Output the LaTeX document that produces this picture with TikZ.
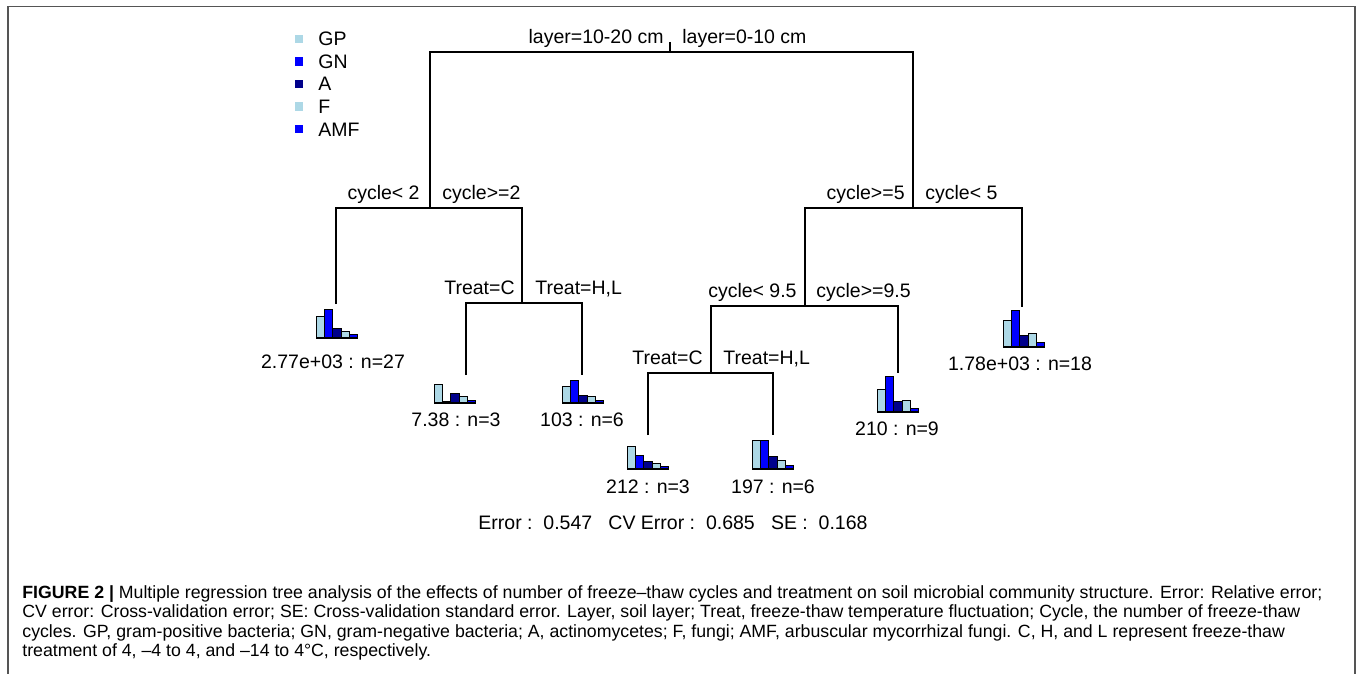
\documentclass[tikz,border=0pt]{standalone}
\usepackage{fontspec}
\setmainfont{Liberation Sans}
\definecolor{gpcol}{HTML}{ADD8E6}
\definecolor{gncol}{HTML}{0000FF}
\definecolor{accol}{HTML}{00008B}
\definecolor{framegray}{HTML}{555555}
\newcommand\leafbars[7]{%
  \filldraw[barbox,fill=gpcol] (#1,#2) rectangle ++(8.3,-#3);
  \filldraw[barbox,fill=gncol] ({#1+8.3},#2) rectangle ++(8.3,-#4);
  \filldraw[barbox,fill=accol] ({#1+16.6},#2) rectangle ++(8.3,-#5);
  \filldraw[barbox,fill=gpcol] ({#1+24.9},#2) rectangle ++(8.3,-#6);
  \filldraw[barbox,fill=gncol] ({#1+33.2},#2) rectangle ++(8.3,-#7);
  \draw[line width=1pt] (#1,#2) -- ++(41.5,0);
}
\begin{document}
\begin{tikzpicture}[x=0.5pt,y=-0.5pt,
  treeline/.style={line width=0.75pt, black},
  txt/.style={font=\fontsize{9.75}{11}\selectfont, inner sep=0pt},
  lsplit/.style={txt, anchor=base east},
  rsplit/.style={txt, anchor=base west},
  leaflbl/.style={txt, anchor=base},
  captext/.style={font=\fontsize{8.86}{10}\selectfont, inner sep=0pt, anchor=base west},
  barbox/.style={draw=black, line width=0.4pt},
  legsq/.style={minimum size=4.2pt, inner sep=0pt}]
\useasboundingbox (0,0) rectangle (1360,674);
\fill[white] (0,0) rectangle (1360,674);
% frame
\draw[framegray, line width=0.7pt] (8,674) -- (8,6.5) -- (1355,6.5) -- (1355,674);

% legend
\foreach \nm/\col/\yy in {GP/gpcol/39, GN/gncol/61.5, A/accol/84, F/gpcol/106.5, AMF/gncol/129}{
  \node[legsq, fill=\col] (sq\nm) at (299,\yy) {};
  \node[txt, anchor=base west] (lg\nm) at (318,{\yy+7}) {\nm};
}

% tree coordinates
\coordinate (roottop) at (670,42);
\coordinate (root) at (670,52);
\coordinate (nA) at (430,208);
\coordinate (nB) at (913,208);
\coordinate (nC) at (522,303);
\coordinate (nD) at (805,306);
\coordinate (nE) at (711,373);
\coordinate (l1) at (336,304);
\coordinate (l2) at (466,375);
\coordinate (l3) at (582,375);
\coordinate (l4) at (648,435);
\coordinate (l5) at (773,435);
\coordinate (l6) at (898,373);
\coordinate (l7) at (1022,307);

\draw[treeline] (roottop) -- (root);
\draw[treeline] (nA) |- (root) -| (nB);
\draw[treeline] (l1) |- (nA) -| (nC);
\draw[treeline] (l2) |- (nC) -| (l3);
\draw[treeline] (nD) |- (nB) -| (l7);
\draw[treeline] (nE) |- (nD) -| (l6);
\draw[treeline] (l4) |- (nE) -| (l5);

% split labels
\node[lsplit] (sl0) at (664,44) {layer=10-20 cm};
\node[rsplit] (sr0) at (682,44) {layer=0-10 cm};
\node[lsplit] (slA) at (420,199) {cycle< 2};
\node[rsplit] (srA) at (442,199) {cycle>=2};
\node[lsplit] (slB) at (905,199) {cycle>=5};
\node[rsplit] (srB) at (925,199) {cycle< 5};
\node[lsplit] (slC) at (515,294) {Treat=C};
\node[rsplit] (srC) at (535,294) {Treat=H,L};
\node[lsplit] (slD) at (797,297) {cycle< 9.5};
\node[rsplit] (srD) at (816,297) {cycle>=9.5};
\node[lsplit] (slE) at (703,364) {Treat=C};
\node[rsplit] (srE) at (723,364) {Treat=H,L};

% leaf bar charts
\leafbars{316}{338}{21.7}{28.7}{9.7}{6.7}{3.7}
\leafbars{434}{403}{19}{1.5}{10}{6.5}{2.5}
\leafbars{562}{403}{16.3}{23}{8}{6.3}{2.3}
\leafbars{627}{469.3}{22.7}{14.3}{8.3}{5.7}{3.3}
\leafbars{752}{469.3}{29.3}{29.3}{12.7}{9.3}{4.3}
\leafbars{877}{411.7}{22.3}{35}{10}{11}{3.3}
\leafbars{1003}{347.3}{27.3}{37.3}{12.3}{14}{4.6}

% leaf labels
\node[leaflbl] (t1) at (333,368) {2.77e+03 : n=27};
\node[leaflbl] (t2) at (456,426) {7.38 : n=3};
\node[leaflbl] (t3) at (582,426) {103 : n=6};
\node[leaflbl] (t4) at (648,493) {212 : n=3};
\node[leaflbl] (t5) at (773,493) {197 : n=6};
\node[leaflbl] (t6) at (897,435) {210 : n=9};
\node[leaflbl] (t7) at (1020,370) {1.78e+03 : n=18};

% error line
\node[txt, anchor=base] (err) at (673,529) {Error :\ \ 0.547\ \ \ CV Error :\ \ 0.685\ \ \ SE :\ \ 0.168};

% caption
\node[captext] (c1) at (22,598) {\textbf{FIGURE 2 |} Multiple regression tree analysis of the effects of number of freeze–thaw cycles and treatment on soil microbial community structure. Error: Relative error;};
\node[captext] (c2) at (22,617.5) {CV error: Cross-validation error; SE: Cross-validation standard error. Layer, soil layer; Treat, freeze-thaw temperature fluctuation; Cycle, the number of freeze-thaw};
\node[captext] (c3) at (22,637) {cycles. GP, gram-positive bacteria; GN, gram-negative bacteria; A, actinomycetes; F, fungi; AMF, arbuscular mycorrhizal fungi. C, H, and L represent freeze-thaw};
\node[captext] (c4) at (22,656.5) {treatment of 4, –4 to 4, and –14 to 4°C, respectively.};
\end{tikzpicture}
\end{document}
